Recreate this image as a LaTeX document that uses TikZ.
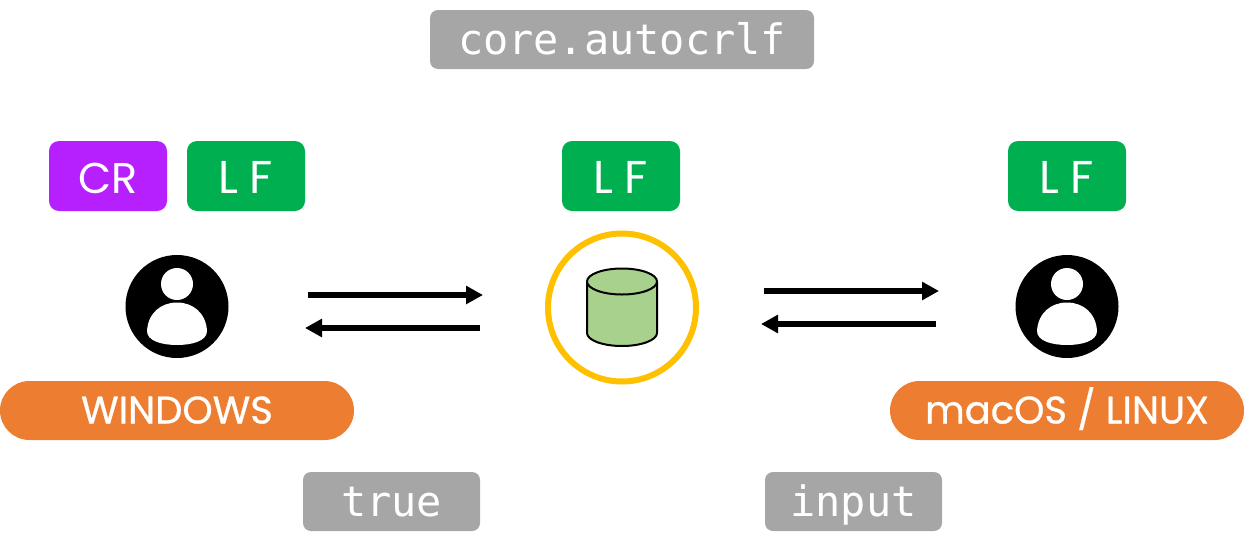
\documentclass[tikz,border=0pt]{standalone}
\usepackage{fontspec}
\setmainfont{Poppins}
\setmonofont{DejaVu Sans Mono}
\usetikzlibrary{arrows.meta}
\definecolor{crpurple}{HTML}{B620FF}
\definecolor{lfgreen}{HTML}{00B050}
\definecolor{osorange}{HTML}{ED7D31}
\definecolor{cfggray}{HTML}{A6A6A6}
\definecolor{ringyellow}{HTML}{FFC000}
\definecolor{repogreen}{HTML}{A9D18E}
\tikzset{
	tag/.style={rounded corners=10pt,text=white,minimum width=118pt,minimum height=70pt,inner sep=0pt,outer sep=0pt,text height=34pt,text depth=0pt,font=\fontsize{43}{43}\selectfont},
	ostag/.style={fill=osorange,rounded corners=29.5pt,text=white,minimum width=354pt,minimum height=59pt,inner sep=0pt,outer sep=0pt,text height=26pt,text depth=0pt,font=\fontsize{38.5}{39}\selectfont\addfontfeature{FakeBold=0.8}},
	cfgtag/.style={fill=cfggray,rounded corners=8pt,text=white,minimum width=177pt,minimum height=59pt,inner sep=0pt,outer sep=0pt,text height=30pt,text depth=0pt,font=\fontsize{41.9}{42}\ttfamily},
	sync/.style={line width=6pt,-{Triangle[length=17pt,width=17.5pt]}}
}
\begin{document}
\begin{tikzpicture}[x=1pt,y=-1pt,line join=round]
	\useasboundingbox (0,0) rectangle (1244,552);
	% config names
	\node[cfgtag,minimum width=384pt] (autocrlf) at (622,39.5) {core.autocrlf};
	\node[cfgtag] (true) at (391.5,501.5) {true};
	\node[cfgtag] (input) at (853.5,501.5) {input};
	% line endings
	\node[tag,fill=crpurple] (cr) at (108,176) {CR};
	\foreach \x/\n in {246/lfwin,621/lfrepo,1067/lfunix}
		\node[tag,fill=lfgreen,font=\fontsize{46}{46}\selectfont] (\n) at (\x,176) {L\kern 11pt F};
	% systems
	\node[ostag] (windows) at (177,410.5) {WINDOWS};
	\node[ostag] (unix) at (1067,410.5) {macOS / LINUX};
	% users
	\foreach \x in {177,1067}
	{
		\fill[shift={(\x,0)}] (0,306.5) circle (51.5);
		\fill[white,shift={(\x,0)}] (0,284) circle (16);
		\fill[white,shift={(\x,0)}] (-30,331) .. controls (-29,313) and (-16,302.5) .. (0,302.5)
			.. controls (16,302.5) and (29,313) .. (30,331)
			.. controls (30,341) and (15,345) .. (0,345)
			.. controls (-15,345) and (-30,341) .. (-30,331) -- cycle;
	}
	% repository
	\draw[ringyellow,line width=6pt] (622,307.5) circle (74);
	\draw[fill=repogreen,line width=2pt] (587,281.5) -- (587,333) arc[start angle=180,end angle=0,x radius=35,y radius=13] -- (657,281.5);
	\draw[fill=repogreen,line width=2pt] (622,281.5) ellipse [x radius=35,y radius=13];
	% sync arrows
	\coordinate (wa) at (308,295);
	\coordinate (wb) at (483,295);
	\coordinate (wc) at (480,328);
	\coordinate (wd) at (305,328);
	\coordinate (ua) at (764,291);
	\coordinate (ub) at (939,291);
	\coordinate (uc) at (936,324);
	\coordinate (ud) at (761,324);
	\draw[sync] (wa) -- (wb);
	\draw[sync] (wc) -- (wd);
	\draw[sync] (ua) -- (ub);
	\draw[sync] (uc) -- (ud);
\end{tikzpicture}
\end{document}
